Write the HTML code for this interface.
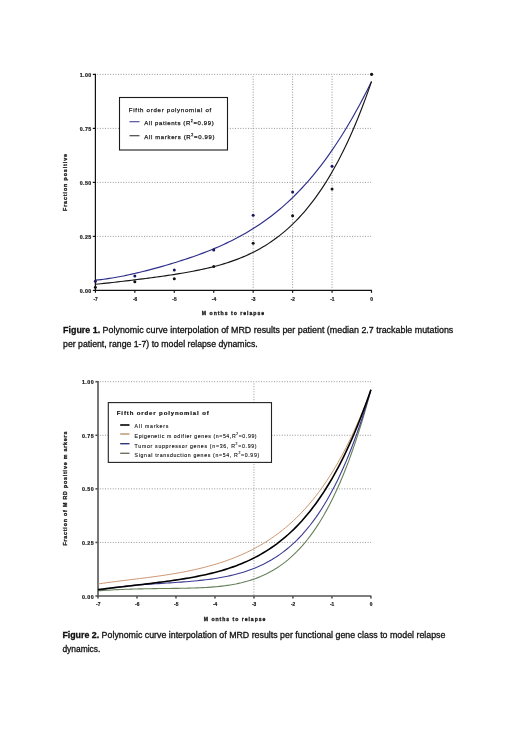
<!DOCTYPE html>
<html><head><meta charset="utf-8"><style>
html,body{margin:0;padding:0;background:#fff;}
body{width:520px;height:736px;overflow:hidden;position:relative;}
svg{position:absolute;left:0;top:0;will-change:transform;}
text{font-family:"Liberation Sans",sans-serif;}
</style></head><body>
<svg width="520" height="736" viewBox="0 0 520 736">
<rect x="0" y="0" width="520" height="736" fill="#fff"/>

<line x1="97.20" y1="236.40" x2="371.00" y2="236.40" stroke="#8c8c8c" stroke-width="0.9" stroke-dasharray="1 1.6"/>
<line x1="97.20" y1="182.40" x2="371.00" y2="182.40" stroke="#8c8c8c" stroke-width="0.9" stroke-dasharray="1 1.6"/>
<line x1="97.20" y1="128.40" x2="371.00" y2="128.40" stroke="#8c8c8c" stroke-width="0.9" stroke-dasharray="1 1.6"/>
<line x1="97.20" y1="74.40" x2="371.00" y2="74.40" stroke="#8c8c8c" stroke-width="0.9" stroke-dasharray="1 1.6"/>
<line x1="253.17" y1="76.20" x2="253.17" y2="289.40" stroke="#8c8c8c" stroke-width="0.9" stroke-dasharray="1 1.6"/>
<line x1="292.61" y1="76.20" x2="292.61" y2="289.40" stroke="#8c8c8c" stroke-width="0.9" stroke-dasharray="1 1.6"/>
<line x1="332.06" y1="76.20" x2="332.06" y2="289.40" stroke="#8c8c8c" stroke-width="0.9" stroke-dasharray="1 1.6"/>
<line x1="95.40" y1="73.80" x2="95.40" y2="290.40" stroke="#111" stroke-width="1.2"/>
<line x1="94.80" y1="290.40" x2="371.90" y2="290.40" stroke="#111" stroke-width="1.2"/>
<line x1="92.80" y1="290.40" x2="95.40" y2="290.40" stroke="#111" stroke-width="1.2"/>
<text x="91.30" y="293.00" font-size="5.3" font-weight="bold" fill="#1a1a1a" stroke="#1a1a1a" stroke-width="0.2" text-anchor="end" textLength="11.6" lengthAdjust="spacing">0.00</text>
<line x1="92.80" y1="236.40" x2="95.40" y2="236.40" stroke="#111" stroke-width="1.2"/>
<text x="91.30" y="239.00" font-size="5.3" font-weight="bold" fill="#1a1a1a" stroke="#1a1a1a" stroke-width="0.2" text-anchor="end" textLength="11.6" lengthAdjust="spacing">0.25</text>
<line x1="92.80" y1="182.40" x2="95.40" y2="182.40" stroke="#111" stroke-width="1.2"/>
<text x="91.30" y="185.00" font-size="5.3" font-weight="bold" fill="#1a1a1a" stroke="#1a1a1a" stroke-width="0.2" text-anchor="end" textLength="11.6" lengthAdjust="spacing">0.50</text>
<line x1="92.80" y1="128.40" x2="95.40" y2="128.40" stroke="#111" stroke-width="1.2"/>
<text x="91.30" y="131.00" font-size="5.3" font-weight="bold" fill="#1a1a1a" stroke="#1a1a1a" stroke-width="0.2" text-anchor="end" textLength="11.6" lengthAdjust="spacing">0.75</text>
<line x1="92.80" y1="74.40" x2="95.40" y2="74.40" stroke="#111" stroke-width="1.2"/>
<text x="91.30" y="77.00" font-size="5.3" font-weight="bold" fill="#1a1a1a" stroke="#1a1a1a" stroke-width="0.2" text-anchor="end" textLength="11.6" lengthAdjust="spacing">1.00</text>
<line x1="95.40" y1="290.40" x2="95.40" y2="292.80" stroke="#111" stroke-width="1.2"/>
<text x="95.60" y="301.00" font-size="4.8" font-weight="bold" fill="#1a1a1a" stroke="#1a1a1a" stroke-width="0.2" text-anchor="middle">-7</text>
<line x1="134.84" y1="290.40" x2="134.84" y2="292.80" stroke="#111" stroke-width="1.2"/>
<text x="135.04" y="301.00" font-size="4.8" font-weight="bold" fill="#1a1a1a" stroke="#1a1a1a" stroke-width="0.2" text-anchor="middle">-6</text>
<line x1="174.29" y1="290.40" x2="174.29" y2="292.80" stroke="#111" stroke-width="1.2"/>
<text x="174.49" y="301.00" font-size="4.8" font-weight="bold" fill="#1a1a1a" stroke="#1a1a1a" stroke-width="0.2" text-anchor="middle">-5</text>
<line x1="213.73" y1="290.40" x2="213.73" y2="292.80" stroke="#111" stroke-width="1.2"/>
<text x="213.93" y="301.00" font-size="4.8" font-weight="bold" fill="#1a1a1a" stroke="#1a1a1a" stroke-width="0.2" text-anchor="middle">-4</text>
<line x1="253.17" y1="290.40" x2="253.17" y2="292.80" stroke="#111" stroke-width="1.2"/>
<text x="253.37" y="301.00" font-size="4.8" font-weight="bold" fill="#1a1a1a" stroke="#1a1a1a" stroke-width="0.2" text-anchor="middle">-3</text>
<line x1="292.61" y1="290.40" x2="292.61" y2="292.80" stroke="#111" stroke-width="1.2"/>
<text x="292.81" y="301.00" font-size="4.8" font-weight="bold" fill="#1a1a1a" stroke="#1a1a1a" stroke-width="0.2" text-anchor="middle">-2</text>
<line x1="332.06" y1="290.40" x2="332.06" y2="292.80" stroke="#111" stroke-width="1.2"/>
<text x="332.26" y="301.00" font-size="4.8" font-weight="bold" fill="#1a1a1a" stroke="#1a1a1a" stroke-width="0.2" text-anchor="middle">-1</text>
<line x1="371.50" y1="290.40" x2="371.50" y2="292.80" stroke="#111" stroke-width="1.2"/>
<text x="371.70" y="301.00" font-size="4.8" font-weight="bold" fill="#1a1a1a" stroke="#1a1a1a" stroke-width="0.2" text-anchor="middle">0</text>
<text x="233" y="315.1" font-size="5.1" font-weight="bold" fill="#1a1a1a" stroke="#1a1a1a" stroke-width="0.3" text-anchor="middle" textLength="62.3" lengthAdjust="spacing">M onths to relapse</text>
<text transform="translate(66.9,182.5) rotate(-90)" font-size="5.3" font-weight="bold" fill="#1a1a1a" stroke="#1a1a1a" stroke-width="0.3" text-anchor="middle" textLength="57" lengthAdjust="spacing">Fraction positive</text>
<path d="M95.40,280.17 L98.19,279.90 L100.98,279.59 L103.77,279.24 L106.56,278.85 L109.34,278.44 L112.13,277.99 L114.92,277.52 L117.71,277.01 L120.50,276.49 L123.29,275.94 L126.08,275.36 L128.87,274.77 L131.66,274.16 L134.44,273.53 L137.23,272.88 L140.02,272.21 L142.81,271.53 L145.60,270.83 L148.39,270.12 L151.18,269.39 L153.97,268.65 L156.76,267.89 L159.54,267.12 L162.33,266.33 L165.12,265.53 L167.91,264.72 L170.70,263.89 L173.49,263.05 L176.28,262.19 L179.07,261.32 L181.86,260.42 L184.64,259.51 L187.43,258.59 L190.22,257.64 L193.01,256.68 L195.80,255.69 L198.59,254.68 L201.38,253.65 L204.17,252.59 L206.96,251.51 L209.74,250.41 L212.53,249.27 L215.32,248.11 L218.11,246.91 L220.90,245.68 L223.69,244.42 L226.48,243.13 L229.27,241.79 L232.06,240.42 L234.84,239.01 L237.63,237.56 L240.42,236.06 L243.21,234.52 L246.00,232.93 L248.79,231.29 L251.58,229.59 L254.37,227.85 L257.16,226.05 L259.94,224.20 L262.73,222.28 L265.52,220.31 L268.31,218.27 L271.10,216.17 L273.89,214.00 L276.68,211.77 L279.47,209.46 L282.26,207.08 L285.04,204.63 L287.83,202.10 L290.62,199.49 L293.41,196.80 L296.20,194.03 L298.99,191.17 L301.78,188.23 L304.57,185.20 L307.36,182.08 L310.14,178.86 L312.93,175.56 L315.72,172.16 L318.51,168.66 L321.30,165.06 L324.09,161.36 L326.88,157.56 L329.67,153.65 L332.46,149.64 L335.24,145.52 L338.03,141.30 L340.82,136.96 L343.61,132.51 L346.40,127.95 L349.19,123.27 L351.98,118.48 L354.77,113.57 L357.56,108.54 L360.34,103.40 L363.13,98.13 L365.92,92.74 L368.71,87.23 L371.50,81.60" fill="none" stroke="#2e2e8a" stroke-width="1.15"/>
<path d="M95.40,284.29 L98.19,284.01 L100.98,283.72 L103.77,283.43 L106.56,283.13 L109.34,282.82 L112.13,282.51 L114.92,282.20 L117.71,281.88 L120.50,281.55 L123.29,281.22 L126.08,280.89 L128.87,280.56 L131.66,280.22 L134.44,279.87 L137.23,279.53 L140.02,279.18 L142.81,278.82 L145.60,278.46 L148.39,278.10 L151.18,277.73 L153.97,277.36 L156.76,276.98 L159.54,276.60 L162.33,276.21 L165.12,275.81 L167.91,275.40 L170.70,274.98 L173.49,274.56 L176.28,274.12 L179.07,273.68 L181.86,273.22 L184.64,272.74 L187.43,272.25 L190.22,271.75 L193.01,271.22 L195.80,270.68 L198.59,270.12 L201.38,269.54 L204.17,268.93 L206.96,268.29 L209.74,267.63 L212.53,266.95 L215.32,266.23 L218.11,265.47 L220.90,264.69 L223.69,263.86 L226.48,263.00 L229.27,262.09 L232.06,261.14 L234.84,260.15 L237.63,259.11 L240.42,258.01 L243.21,256.86 L246.00,255.66 L248.79,254.39 L251.58,253.07 L254.37,251.67 L257.16,250.21 L259.94,248.68 L262.73,247.07 L265.52,245.39 L268.31,243.62 L271.10,241.77 L273.89,239.83 L276.68,237.79 L279.47,235.66 L282.26,233.43 L285.04,231.10 L287.83,228.66 L290.62,226.10 L293.41,223.44 L296.20,220.65 L298.99,217.73 L301.78,214.69 L304.57,211.51 L307.36,208.19 L310.14,204.73 L312.93,201.13 L315.72,197.37 L318.51,193.45 L321.30,189.37 L324.09,185.12 L326.88,180.69 L329.67,176.09 L332.46,171.30 L335.24,166.33 L338.03,161.15 L340.82,155.78 L343.61,150.20 L346.40,144.40 L349.19,138.39 L351.98,132.15 L354.77,125.67 L357.56,118.96 L360.34,112.01 L363.13,104.80 L365.92,97.33 L368.71,89.60 L371.50,81.60" fill="none" stroke="#151515" stroke-width="1.15"/>
<circle cx="95.40" cy="281.20" r="1.5" fill="#18185e"/>
<circle cx="134.84" cy="276.00" r="1.5" fill="#18185e"/>
<circle cx="174.29" cy="270.10" r="1.5" fill="#18185e"/>
<circle cx="213.73" cy="250.10" r="1.5" fill="#18185e"/>
<circle cx="253.17" cy="215.30" r="1.5" fill="#18185e"/>
<circle cx="292.61" cy="192.10" r="1.5" fill="#18185e"/>
<circle cx="332.06" cy="166.30" r="1.5" fill="#18185e"/>
<circle cx="95.40" cy="287.20" r="1.5" fill="#111"/>
<circle cx="134.84" cy="281.70" r="1.5" fill="#111"/>
<circle cx="174.29" cy="278.70" r="1.5" fill="#111"/>
<circle cx="213.73" cy="266.60" r="1.5" fill="#111"/>
<circle cx="253.17" cy="243.20" r="1.5" fill="#111"/>
<circle cx="292.61" cy="215.80" r="1.5" fill="#111"/>
<circle cx="332.06" cy="189.10" r="1.5" fill="#111"/>
<circle cx="371.6" cy="74.3" r="1.6" fill="#111"/>
<rect x="119.5" y="97.5" width="108" height="52.5" fill="#fff" stroke="#1a1a1a" stroke-width="1.1"/>
<text x="128.75" y="111.8" font-size="6.1" fill="#1a1a1a" stroke="#1a1a1a" stroke-width="0.25" textLength="82.5" lengthAdjust="spacing">Fifth order polynomial of</text>
<line x1="129.50" y1="121.75" x2="139.50" y2="121.75" stroke="#2e2e8a" stroke-width="1"/>
<text x="144.25" y="125.4" font-size="6.0" fill="#1a1a1a" stroke="#1a1a1a" stroke-width="0.25" textLength="69.5" lengthAdjust="spacing">All patients (R<tspan font-size="3.6" dy="-3.6">2</tspan><tspan dy="3.6">=0.99)</tspan></text>
<line x1="129.50" y1="135.75" x2="139.50" y2="135.75" stroke="#222" stroke-width="1"/>
<text x="144.25" y="139.4" font-size="6.0" fill="#1a1a1a" stroke="#1a1a1a" stroke-width="0.25" textLength="70.2" lengthAdjust="spacing">All markers (R<tspan font-size="3.6" dy="-3.6">2</tspan><tspan dy="3.6">=0.99)</tspan></text>
<line x1="99.80" y1="542.42" x2="371.00" y2="542.42" stroke="#8c8c8c" stroke-width="0.9" stroke-dasharray="1 1.6"/>
<line x1="99.80" y1="488.85" x2="371.00" y2="488.85" stroke="#8c8c8c" stroke-width="0.9" stroke-dasharray="1 1.6"/>
<line x1="99.80" y1="435.27" x2="371.00" y2="435.27" stroke="#8c8c8c" stroke-width="0.9" stroke-dasharray="1 1.6"/>
<line x1="99.80" y1="381.70" x2="371.00" y2="381.70" stroke="#8c8c8c" stroke-width="0.9" stroke-dasharray="1 1.6"/>
<line x1="253.94" y1="383.50" x2="253.94" y2="595.00" stroke="#8c8c8c" stroke-width="0.9" stroke-dasharray="1 1.6"/>
<line x1="98.00" y1="380.90" x2="98.00" y2="596.00" stroke="#555" stroke-width="1.6"/>
<line x1="97.20" y1="596.00" x2="371.30" y2="596.00" stroke="#555" stroke-width="1.6"/>
<line x1="95.40" y1="596.00" x2="98.00" y2="596.00" stroke="#555" stroke-width="1.6"/>
<text x="93.60" y="598.60" font-size="5.3" font-weight="bold" fill="#1a1a1a" stroke="#1a1a1a" stroke-width="0.2" text-anchor="end" textLength="11.6" lengthAdjust="spacing">0.00</text>
<line x1="95.40" y1="542.42" x2="98.00" y2="542.42" stroke="#555" stroke-width="1.6"/>
<text x="93.60" y="545.02" font-size="5.3" font-weight="bold" fill="#1a1a1a" stroke="#1a1a1a" stroke-width="0.2" text-anchor="end" textLength="11.6" lengthAdjust="spacing">0.25</text>
<line x1="95.40" y1="488.85" x2="98.00" y2="488.85" stroke="#555" stroke-width="1.6"/>
<text x="93.60" y="491.45" font-size="5.3" font-weight="bold" fill="#1a1a1a" stroke="#1a1a1a" stroke-width="0.2" text-anchor="end" textLength="11.6" lengthAdjust="spacing">0.50</text>
<line x1="95.40" y1="435.27" x2="98.00" y2="435.27" stroke="#555" stroke-width="1.6"/>
<text x="93.60" y="437.88" font-size="5.3" font-weight="bold" fill="#1a1a1a" stroke="#1a1a1a" stroke-width="0.2" text-anchor="end" textLength="11.6" lengthAdjust="spacing">0.75</text>
<line x1="95.40" y1="381.70" x2="98.00" y2="381.70" stroke="#555" stroke-width="1.6"/>
<text x="93.60" y="384.30" font-size="5.3" font-weight="bold" fill="#1a1a1a" stroke="#1a1a1a" stroke-width="0.2" text-anchor="end" textLength="11.6" lengthAdjust="spacing">1.00</text>
<line x1="98.00" y1="596.00" x2="98.00" y2="598.40" stroke="#555" stroke-width="1.6"/>
<text x="98.20" y="606.40" font-size="4.8" font-weight="bold" fill="#1a1a1a" stroke="#1a1a1a" stroke-width="0.2" text-anchor="middle">-7</text>
<line x1="136.99" y1="596.00" x2="136.99" y2="598.40" stroke="#555" stroke-width="1.6"/>
<text x="137.19" y="606.40" font-size="4.8" font-weight="bold" fill="#1a1a1a" stroke="#1a1a1a" stroke-width="0.2" text-anchor="middle">-6</text>
<line x1="175.97" y1="596.00" x2="175.97" y2="598.40" stroke="#555" stroke-width="1.6"/>
<text x="176.17" y="606.40" font-size="4.8" font-weight="bold" fill="#1a1a1a" stroke="#1a1a1a" stroke-width="0.2" text-anchor="middle">-5</text>
<line x1="214.96" y1="596.00" x2="214.96" y2="598.40" stroke="#555" stroke-width="1.6"/>
<text x="215.16" y="606.40" font-size="4.8" font-weight="bold" fill="#1a1a1a" stroke="#1a1a1a" stroke-width="0.2" text-anchor="middle">-4</text>
<line x1="253.94" y1="596.00" x2="253.94" y2="598.40" stroke="#555" stroke-width="1.6"/>
<text x="254.14" y="606.40" font-size="4.8" font-weight="bold" fill="#1a1a1a" stroke="#1a1a1a" stroke-width="0.2" text-anchor="middle">-3</text>
<line x1="292.93" y1="596.00" x2="292.93" y2="598.40" stroke="#555" stroke-width="1.6"/>
<text x="293.13" y="606.40" font-size="4.8" font-weight="bold" fill="#1a1a1a" stroke="#1a1a1a" stroke-width="0.2" text-anchor="middle">-2</text>
<line x1="331.91" y1="596.00" x2="331.91" y2="598.40" stroke="#555" stroke-width="1.6"/>
<text x="332.11" y="606.40" font-size="4.8" font-weight="bold" fill="#1a1a1a" stroke="#1a1a1a" stroke-width="0.2" text-anchor="middle">-1</text>
<line x1="370.90" y1="596.00" x2="370.90" y2="598.40" stroke="#555" stroke-width="1.6"/>
<text x="371.10" y="606.40" font-size="4.8" font-weight="bold" fill="#1a1a1a" stroke="#1a1a1a" stroke-width="0.2" text-anchor="middle">0</text>
<text x="234.6" y="620.6" font-size="5.1" font-weight="bold" fill="#1a1a1a" stroke="#1a1a1a" stroke-width="0.3" text-anchor="middle" textLength="61.6" lengthAdjust="spacing">M onths to relapse</text>
<text transform="translate(67.4,488.6) rotate(-90)" font-size="5.3" font-weight="bold" fill="#1a1a1a" stroke="#1a1a1a" stroke-width="0.3" text-anchor="middle" textLength="114" lengthAdjust="spacing">Fraction of M RD positive m arkers</text>
<path d="M98.00,584.01 L100.76,583.59 L103.51,583.18 L106.27,582.78 L109.03,582.40 L111.78,582.02 L114.54,581.66 L117.30,581.31 L120.05,580.96 L122.81,580.62 L125.57,580.28 L128.32,579.94 L131.08,579.60 L133.84,579.27 L136.59,578.93 L139.35,578.59 L142.11,578.25 L144.86,577.90 L147.62,577.54 L150.37,577.18 L153.13,576.82 L155.89,576.44 L158.64,576.05 L161.40,575.65 L164.16,575.24 L166.91,574.82 L169.67,574.39 L172.43,573.94 L175.18,573.47 L177.94,572.99 L180.70,572.49 L183.45,571.97 L186.21,571.43 L188.97,570.88 L191.72,570.30 L194.48,569.69 L197.24,569.07 L199.99,568.42 L202.75,567.74 L205.51,567.04 L208.26,566.31 L211.02,565.54 L213.78,564.75 L216.53,563.93 L219.29,563.07 L222.05,562.18 L224.80,561.25 L227.56,560.28 L230.32,559.27 L233.07,558.22 L235.83,557.13 L238.58,556.00 L241.34,554.81 L244.10,553.58 L246.85,552.30 L249.61,550.97 L252.37,549.58 L255.12,548.13 L257.88,546.62 L260.64,545.06 L263.39,543.43 L266.15,541.73 L268.91,539.96 L271.66,538.12 L274.42,536.20 L277.18,534.21 L279.93,532.13 L282.69,529.97 L285.45,527.72 L288.20,525.38 L290.96,522.94 L293.72,520.41 L296.47,517.77 L299.23,515.03 L301.99,512.17 L304.74,509.20 L307.50,506.12 L310.26,502.90 L313.01,499.56 L315.77,496.09 L318.53,492.47 L321.28,488.72 L324.04,484.81 L326.79,480.75 L329.55,476.53 L332.31,472.15 L335.06,467.59 L337.82,462.86 L340.58,457.95 L343.33,452.84 L346.09,447.54 L348.85,442.03 L351.60,436.32 L354.36,430.38 L357.12,424.23 L359.87,417.84 L362.63,411.21 L365.39,404.33 L368.14,397.20 L370.90,389.80" fill="none" stroke="#cc9670" stroke-width="1.0"/>
<path d="M98.00,590.82 L100.76,590.63 L103.51,590.45 L106.27,590.27 L109.03,590.11 L111.78,589.95 L114.54,589.81 L117.30,589.67 L120.05,589.55 L122.81,589.43 L125.57,589.32 L128.32,589.22 L131.08,589.13 L133.84,589.04 L136.59,588.97 L139.35,588.90 L142.11,588.83 L144.86,588.77 L147.62,588.72 L150.37,588.68 L153.13,588.63 L155.89,588.60 L158.64,588.56 L161.40,588.53 L164.16,588.50 L166.91,588.47 L169.67,588.44 L172.43,588.41 L175.18,588.38 L177.94,588.34 L180.70,588.30 L183.45,588.26 L186.21,588.20 L188.97,588.14 L191.72,588.07 L194.48,587.99 L197.24,587.89 L199.99,587.78 L202.75,587.65 L205.51,587.50 L208.26,587.33 L211.02,587.14 L213.78,586.92 L216.53,586.68 L219.29,586.40 L222.05,586.09 L224.80,585.75 L227.56,585.36 L230.32,584.94 L233.07,584.46 L235.83,583.95 L238.58,583.37 L241.34,582.75 L244.10,582.06 L246.85,581.32 L249.61,580.50 L252.37,579.62 L255.12,578.66 L257.88,577.62 L260.64,576.50 L263.39,575.29 L266.15,573.99 L268.91,572.59 L271.66,571.09 L274.42,569.48 L277.18,567.75 L279.93,565.90 L282.69,563.93 L285.45,561.83 L288.20,559.59 L290.96,557.21 L293.72,554.67 L296.47,551.98 L299.23,549.13 L301.99,546.10 L304.74,542.89 L307.50,539.50 L310.26,535.92 L313.01,532.13 L315.77,528.14 L318.53,523.92 L321.28,519.48 L324.04,514.81 L326.79,509.89 L329.55,504.71 L332.31,499.28 L335.06,493.57 L337.82,487.58 L340.58,481.30 L343.33,474.71 L346.09,467.81 L348.85,460.59 L351.60,453.04 L354.36,445.14 L357.12,436.88 L359.87,428.25 L362.63,419.24 L365.39,409.84 L368.14,400.03 L370.90,389.80" fill="none" stroke="#67805a" stroke-width="1.1"/>
<path d="M98.00,590.02 L100.76,589.54 L103.51,589.09 L106.27,588.67 L109.03,588.26 L111.78,587.88 L114.54,587.52 L117.30,587.18 L120.05,586.85 L122.81,586.55 L125.57,586.25 L128.32,585.98 L131.08,585.71 L133.84,585.46 L136.59,585.22 L139.35,585.00 L142.11,584.78 L144.86,584.57 L147.62,584.36 L150.37,584.17 L153.13,583.97 L155.89,583.79 L158.64,583.60 L161.40,583.42 L164.16,583.24 L166.91,583.06 L169.67,582.88 L172.43,582.69 L175.18,582.50 L177.94,582.31 L180.70,582.11 L183.45,581.90 L186.21,581.69 L188.97,581.46 L191.72,581.22 L194.48,580.97 L197.24,580.70 L199.99,580.42 L202.75,580.12 L205.51,579.79 L208.26,579.45 L211.02,579.08 L213.78,578.69 L216.53,578.26 L219.29,577.81 L222.05,577.32 L224.80,576.80 L227.56,576.24 L230.32,575.64 L233.07,575.00 L235.83,574.32 L238.58,573.58 L241.34,572.79 L244.10,571.95 L246.85,571.05 L249.61,570.09 L252.37,569.07 L255.12,567.97 L257.88,566.81 L260.64,565.57 L263.39,564.25 L266.15,562.84 L268.91,561.35 L271.66,559.77 L274.42,558.09 L277.18,556.30 L279.93,554.41 L282.69,552.41 L285.45,550.29 L288.20,548.05 L290.96,545.68 L293.72,543.18 L296.47,540.54 L299.23,537.75 L301.99,534.81 L304.74,531.72 L307.50,528.46 L310.26,525.02 L313.01,521.41 L315.77,517.62 L318.53,513.63 L321.28,509.44 L324.04,505.04 L326.79,500.42 L329.55,495.59 L332.31,490.51 L335.06,485.20 L337.82,479.64 L340.58,473.81 L343.33,467.72 L346.09,461.35 L348.85,454.69 L351.60,447.74 L354.36,440.47 L357.12,432.89 L359.87,424.98 L362.63,416.72 L365.39,408.11 L368.14,399.15 L370.90,389.80" fill="none" stroke="#3a3a92" stroke-width="1.1"/>
<path d="M98.00,589.65 L100.76,589.31 L103.51,588.98 L106.27,588.64 L109.03,588.31 L111.78,587.98 L114.54,587.66 L117.30,587.33 L120.05,587.01 L122.81,586.69 L125.57,586.37 L128.32,586.05 L131.08,585.73 L133.84,585.40 L136.59,585.08 L139.35,584.76 L142.11,584.43 L144.86,584.11 L147.62,583.78 L150.37,583.44 L153.13,583.10 L155.89,582.76 L158.64,582.41 L161.40,582.05 L164.16,581.69 L166.91,581.32 L169.67,580.94 L172.43,580.54 L175.18,580.14 L177.94,579.73 L180.70,579.30 L183.45,578.86 L186.21,578.40 L188.97,577.93 L191.72,577.44 L194.48,576.93 L197.24,576.40 L199.99,575.84 L202.75,575.27 L205.51,574.67 L208.26,574.04 L211.02,573.38 L213.78,572.69 L216.53,571.98 L219.29,571.22 L222.05,570.43 L224.80,569.61 L227.56,568.74 L230.32,567.83 L233.07,566.88 L235.83,565.89 L238.58,564.84 L241.34,563.74 L244.10,562.59 L246.85,561.38 L249.61,560.11 L252.37,558.79 L255.12,557.39 L257.88,555.93 L260.64,554.40 L263.39,552.80 L266.15,551.12 L268.91,549.36 L271.66,547.52 L274.42,545.59 L277.18,543.57 L279.93,541.45 L282.69,539.24 L285.45,536.93 L288.20,534.52 L290.96,531.99 L293.72,529.35 L296.47,526.60 L299.23,523.72 L301.99,520.72 L304.74,517.59 L307.50,514.32 L310.26,510.91 L313.01,507.36 L315.77,503.66 L318.53,499.81 L321.28,495.80 L324.04,491.62 L326.79,487.27 L329.55,482.75 L332.31,478.04 L335.06,473.15 L337.82,468.07 L340.58,462.79 L343.33,457.30 L346.09,451.61 L348.85,445.70 L351.60,439.56 L354.36,433.20 L357.12,426.59 L359.87,419.75 L362.63,412.65 L365.39,405.30 L368.14,397.69 L370.90,389.80" fill="none" stroke="#000" stroke-width="1.6"/>
<rect x="108.3" y="402.6" width="163.2" height="59.8" fill="#fff" stroke="#222" stroke-width="1.1"/>
<text x="116.8" y="415.2" font-size="6.0" font-weight="bold" fill="#111" stroke="#111" stroke-width="0.2" textLength="91.9" lengthAdjust="spacing">Fifth order polynomial of</text>
<line x1="120.20" y1="425.00" x2="129.50" y2="425.00" stroke="#111" stroke-width="1.7"/>
<line x1="120.20" y1="434.00" x2="129.50" y2="434.00" stroke="#b8906e" stroke-width="1.4"/>
<line x1="120.20" y1="443.70" x2="129.50" y2="443.70" stroke="#33337a" stroke-width="1.4"/>
<line x1="120.20" y1="453.30" x2="129.50" y2="453.30" stroke="#6b735f" stroke-width="1.4"/>
<text x="134.6" y="428.0" font-size="5.2" fill="#1a1a1a" stroke="#1a1a1a" stroke-width="0.14" textLength="33.8" lengthAdjust="spacing">All markers</text>
<text x="134.6" y="437.9" font-size="5.2" fill="#1a1a1a" stroke="#1a1a1a" stroke-width="0.14" textLength="122" lengthAdjust="spacing">Epigenetic m odifier genes (n=54,R<tspan font-size="3.4" dy="-3.2">2</tspan><tspan dy="3.2">=0.99)</tspan></text>
<text x="134.6" y="448.0" font-size="5.2" fill="#1a1a1a" stroke="#1a1a1a" stroke-width="0.14" textLength="122" lengthAdjust="spacing">Tumor suppressor genes (n=36, R<tspan font-size="3.4" dy="-3.2">2</tspan><tspan dy="3.2">=0.99)</tspan></text>
<text x="134.6" y="457.1" font-size="5.2" fill="#1a1a1a" stroke="#1a1a1a" stroke-width="0.14" textLength="124.6" lengthAdjust="spacing">Signal transduction genes (n=54, R<tspan font-size="3.4" dy="-3.2">2</tspan><tspan dy="3.2">=0.99)</tspan></text>
<text x="63.10" y="332.70" font-size="9.0" fill="#111" stroke="#111" stroke-width="0.3" textLength="390.20" lengthAdjust="spacingAndGlyphs"><tspan font-weight="bold">Figure 1.</tspan> Polynomic curve interpolation of MRD results per patient (median 2.7 trackable mutations</text>
<text x="63.1" y="346.8" font-size="9.0" fill="#111" stroke="#111" stroke-width="0.3" textLength="194.6" lengthAdjust="spacingAndGlyphs">per patient, range 1-7) to model relapse dynamics.</text>
<text x="62.40" y="638.30" font-size="9.0" fill="#111" stroke="#111" stroke-width="0.3" textLength="383.00" lengthAdjust="spacingAndGlyphs"><tspan font-weight="bold">Figure 2.</tspan> Polynomic curve interpolation of MRD results per functional gene class to model relapse</text>
<text x="62.4" y="651.8" font-size="9.0" fill="#111" stroke="#111" stroke-width="0.3" textLength="38" lengthAdjust="spacingAndGlyphs">dynamics.</text>
</svg>
</body></html>
